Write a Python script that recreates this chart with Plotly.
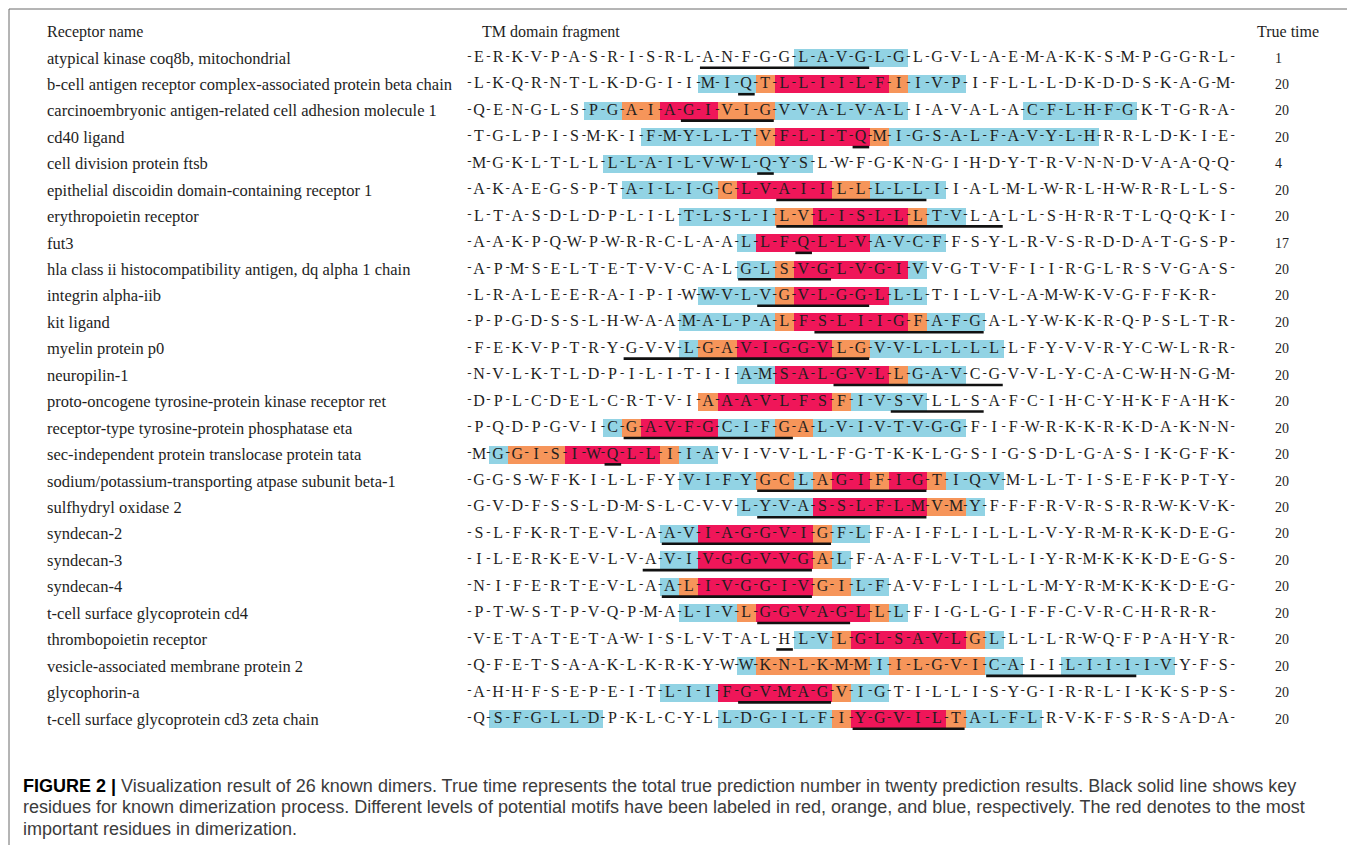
import plotly.graph_objects as go

# ---------------- data ----------------
names = [
    "atypical kinase coq8b, mitochondrial",
    "b-cell antigen receptor complex-associated protein beta chain",
    "carcinoembryonic antigen-related cell adhesion molecule 1",
    "cd40 ligand",
    "cell division protein ftsb",
    "epithelial discoidin domain-containing receptor 1",
    "erythropoietin receptor",
    "fut3",
    "hla class ii histocompatibility antigen, dq alpha 1 chain",
    "integrin alpha-iib",
    "kit ligand",
    "myelin protein p0",
    "neuropilin-1",
    "proto-oncogene tyrosine-protein kinase receptor ret",
    "receptor-type tyrosine-protein phosphatase eta",
    "sec-independent protein translocase protein tata",
    "sodium/potassium-transporting atpase subunit beta-1",
    "sulfhydryl oxidase 2",
    "syndecan-2",
    "syndecan-3",
    "syndecan-4",
    "t-cell surface glycoprotein cd4",
    "thrombopoietin receptor",
    "vesicle-associated membrane protein 2",
    "glycophorin-a",
    "t-cell surface glycoprotein cd3 zeta chain",
]

sequences = [
    "ERKVPASRIS" "RLANFGGLAV" "GLGLGVLAEM" "AKKSMPGGRL",
    "LKQRNTLKDG" "IIMIQTLLII" "LFIIVPIFLL" "LDKDDSKAGM",
    "QENGLSPGAI" "AGIVIGVVAL" "VALIAVALAC" "FLHFGKTGRA",
    "TGLPISMKIF" "MYLLTVFLIT" "QMIGSALFAV" "YLHRRLDKIE",
    "MGKLTLLLLA" "ILVWLQYSLW" "FGKNGIHDYT" "RVNNDVAAQQ",
    "AKAEGSPTAI" "LIGCLVAIIL" "LLLLIIALML" "WRLHWRRLLS",
    "LTASDLDPLI" "LTLSLILVLI" "SLLLTVLALL" "SHRRTLQQKI",
    "AAKPQWPWRR" "CLAALLFQLL" "VAVCFFSYLR" "VSRDDATGSP",
    "APMSELTETV" "VCALGLSVGL" "VGIVVGTVFI" "IRGLRSVGAS",
    "LRALEERAIP" "IWWVLVGVLG" "GLLLTILVLA" "MWKVGFFKR",
    "PPGDSSLHWA" "AMALPALFSL" "IIGFAFGALY" "WKKRQPSLTR",
    "FEKVPTRYGV" "VLGAVIGGVL" "GVVLLLLLLF" "YVVRYCWLRR",
    "NVLKTLDPIL" "ITIIAMSALG" "VLLGAVCGVV" "LYCACWHNGM",
    "DPLCDELCRT" "VIAAAVLFSF" "IVSVLLSAFC" "IHCYHKFAHK",
    "PQDPGVICGA" "VFGCIFGALV" "IVTVGGFIFW" "RKKRKDAKNN",
    "MGGISIWQLL" "IIAVIVVLLF" "GTKKLGSIGS" "DLGASIKGFK",
    "GGSWFKILLF" "YVIFYGCLAG" "IFIGTIQVML" "LTISEFKPTY",
    "GVDFSSLDMS" "LCVVLYVASS" "LFLMVMYFFF" "RVRSRRWKVK",
    "SLFKRTEVLA" "AVIAGGVIGF" "LFAIFLILLL" "VYRMRKKDEG",
    "ILERKEVLVA" "VIVGGVVGAL" "FAAFLVTLLI" "YRMKKKDEGS",
    "NIFERTEVLA" "ALIVGGIVGI" "LFAVFLILLL" "MYRMKKKDEG",
    "PTWSTPVQPM" "ALIVLGGVAG" "LLLFIGLGIF" "FCVRCHRRR",
    "VETATETAWI" "SLVTALHLVL" "GLSAVLGLLL" "LRWQFPAHYR",
    "QFETSAAKLK" "RKYWWKNLKM" "MIILGVICAI" "ILIIIIVYFS",
    "AHHFSEPEIT" "LIIFGVMAGV" "IGTILLISYG" "IRRLIKKSPS",
    "QSFGLLDPKL" "CYLLDGILFI" "YGVILTALFL" "RVKFSRSADA",
]

# motif level of each residue: r = red, o = orange, b = blue, . = none
levels = [
    "................." "bbbbbb" ".................",
    "............" "bbb" "o" "rrrrrr" "o" "bbb" "..............",
    "......" "bb" "oo" "rrr" "ooo" "bbbbbbb" "......" "bbbbbb" ".....",
    "........." "bbbbbb" "o" "rrrrr" "o" "bbbbbbbbbbb" ".......",
    "......." "bbbbbbbbbbb" "......................",
    "........" "bbbbb" "o" "rrrrr" "oo" "bbbb" "...............",
    "..........." "bbbbb" "oo" "rrrrr" "o" "bb" "..............",
    ".............." "b" "rrrrrr" "bbbb" "...............",
    ".............." "bb" "o" "rrrrrr" "b" "................",
    "............" "bbbb" "o" "rrrrr" "bb" "...............",
    "..........." "bbbbb" "o" "rrrrrr" "o" "bbb" ".............",
    "..........." "b" "oo" "rrrrr" "oo" "bbbbbbb" "............",
    ".............." "bb" "rrrrrr" "o" "bbb" "..............",
    "............" "o" "rrrrrr" "o" "bbbb" "................",
    "......." "b" "o" "rrrr" "bbb" "oo" "bbbbbbbb" "..............",
    "." "b" "ooo" "rrrrr" "o" "bb" "...........................",
    "..........." "bbbb" "oo" "b" "o" "rr" "o" "rr" "o" "bbb" "............",
    ".............." "bbbb" "rrrrrr" "oo" "b" ".............",
    ".........." "bb" "rrrrrr" "o" "bb" "...................",
    ".........." "bb" "rrrrrr" "o" "b" "....................",
    ".........." "b" "o" "rrrrrr" "oo" "bb" "..................",
    "..........." "bbb" "o" "rrrrrr" "o" "b" "................",
    "................." "bb" "o" "rrrrrr" "o" "b" "............",
    ".............." "b" "oooooo" "b" "ooooo" "bb" ".." "bbbbbb" "...",
    ".........." "bbb" "rrrrrr" "o" "bb" "..................",
    "." "bbbbbb" "......" "bbbbbb" "o" "rrrrr" "o" "bbbb" "..........",
]

# key residues (first, last), 1-based, drawn as black underline
underlines = [
    (13, 21), (15, 15), (12, 16), (21, 21), (16, 16), (17, 24), (17, 28),
    (18, 18), (15, 19), (16, 21), (19, 27), (9, 21), (20, 28), (23, 27),
    (9, 17), (8, 8), (16, 24), (16, 24), (11, 19), (10, 18), (11, 18),
    (16, 20), (17, 17), (28, 35), (15, 19), (21, 26),
]

true_time = [1, 20, 20, 20, 4, 20, 20, 17, 20, 20, 20, 20, 20,
             20, 20, 20, 20, 20, 20, 20, 20, 20, 20, 20, 20, 20]

headers = ["Receptor name", "TM domain fragment", "True time"]

caption_lines = [
    "Visualization result of 26 known dimers. True time represents the total true prediction number in twenty prediction results. Black solid line shows key",
    "residues for known dimerization process. Different levels of potential motifs have been labeled in red, orange, and blue, respectively. The red denotes to the most",
    "important residues in dimerization.",
]

for s, l in zip(sequences, levels):
    assert len(s) == len(l), (s, l, len(s), len(l))

# ---------------- layout constants ----------------
PAGE_OFF = 8                      # default body margin of the html page
PAGE_W, PAGE_H = 1355, 845
W, H = PAGE_W - PAGE_OFF, PAGE_H - PAGE_OFF
FIRST_PX, STEP_PX = 479.0 - PAGE_OFF, 19.08      # centre of residue 1, spacing
ROW0_PX, ROWSTEP_PX = 58.0 - PAGE_OFF, 26.44     # centre of row 1, spacing
x_range = [1 - FIRST_PX / STEP_PX, 1 + (W - FIRST_PX) / STEP_PX]
y_range = [1 + (H - ROW0_PX) / ROWSTEP_PX, 1 - ROW0_PX / ROWSTEP_PX]

level_colors = {"r": "#EF1659", "o": "#F6955A", "b": "#92D3E4"}
SERIF = "Liberation Serif, DejaVu Serif, serif"
TEXT = "#1e1e1e"

fig = go.Figure()

# coloured motif boxes (horizontal bars, one per run)
for lv, col in level_colors.items():
    bases, lengths, rows = [], [], []
    for r, lev in enumerate(levels, start=1):
        i = 0
        while i < len(lev):
            if lev[i] == lv:
                j = i
                while j + 1 < len(lev) and lev[j + 1] == lv:
                    j += 1
                bases.append(i + 1 - 0.5)
                lengths.append(j - i + 1)
                rows.append(r)
                i = j + 1
            else:
                i += 1
    fig.add_trace(go.Bar(orientation="h", base=bases, x=lengths, y=rows,
                         width=0.68, marker=dict(color=col, line=dict(width=0)),
                         hoverinfo="skip", showlegend=False))

# residue letters and separating dashes
lx, ly, lt, dx, dy = [], [], [], [], []
for r, seq in enumerate(sequences, start=1):
    for i, ch in enumerate(seq, start=1):
        lx.append(i); ly.append(r); lt.append(ch)
    for k in range(len(seq) + 1):
        dx.append(k + 0.5); dy.append(r - 0.06)
fig.add_trace(go.Scatter(x=dx, y=dy, mode="text", text=["-"] * len(dx),
                         textfont=dict(family=SERIF, size=13, color=TEXT),
                         hoverinfo="skip", showlegend=False))
fig.add_trace(go.Scatter(x=lx, y=ly, mode="text", text=lt,
                         textfont=dict(family=SERIF, size=16, color=TEXT),
                         hoverinfo="skip", showlegend=False))

# underlines for key residues
ux, uy = [], []
for r, (a, b) in enumerate(underlines, start=1):
    ux += [a - 0.42, b + 0.45, None]
    uy += [r + 0.37, r + 0.37, None]
fig.add_trace(go.Scatter(x=ux, y=uy, mode="lines",
                         line=dict(color="#111111", width=2.6),
                         hoverinfo="skip", showlegend=False))

annotations = []
def px(p):
    return (p - PAGE_OFF) / W

def py(p):
    return 1 - (p - PAGE_OFF) / H

# headers
for text, p in zip(headers, [45, 480, 1255]):
    annotations.append(dict(text=text, x=px(p), xref="paper", y=0, yref="y",
                            xanchor="left", yanchor="middle", showarrow=False,
                            font=dict(family=SERIF, size=16, color=TEXT)))
# names and true times
for r, (nm, tt) in enumerate(zip(names, true_time), start=1):
    annotations.append(dict(text=nm, x=px(45), xref="paper", y=r, yref="y",
                            xanchor="left", yanchor="middle", showarrow=False,
                            font=dict(family=SERIF, size=16.5, color=TEXT)))
    annotations.append(dict(text=str(tt), x=px(1273), xref="paper", y=r, yref="y",
                            xanchor="left", yanchor="middle", showarrow=False,
                            font=dict(family=SERIF, size=14, color=TEXT)))

# caption
CAP = "Liberation Sans, Arial, sans-serif"
cap_y = [786, 807, 829]
for k, (line, yp) in enumerate(zip(caption_lines, cap_y)):
    t = line
    if k == 0:
        t = "<b><span style='color:#000'>FIGURE 2 | </span></b>" + line
    annotations.append(dict(text=t, x=px(21), xref="paper", y=py(yp), yref="paper",
                            xanchor="left", yanchor="middle", showarrow=False,
                            font=dict(family=CAP, size=18, color="#3c3c3c")))

fig.update_layout(
    width=W, height=H,
    margin=dict(l=0, r=0, t=0, b=0),
    paper_bgcolor="white", plot_bgcolor="white",
    barmode="overlay", bargap=0,
    xaxis=dict(range=x_range, visible=False, fixedrange=True),
    yaxis=dict(range=y_range, visible=False, fixedrange=True),
    annotations=annotations,
    shapes=[dict(type="rect", xref="paper", yref="paper",
                 x0=px(9), x1=px(1352), y0=-0.2, y1=py(9),
                 line=dict(color="#6b6b6b", width=1), fillcolor="rgba(0,0,0,0)")],
)

fig.write_html("out.html")
